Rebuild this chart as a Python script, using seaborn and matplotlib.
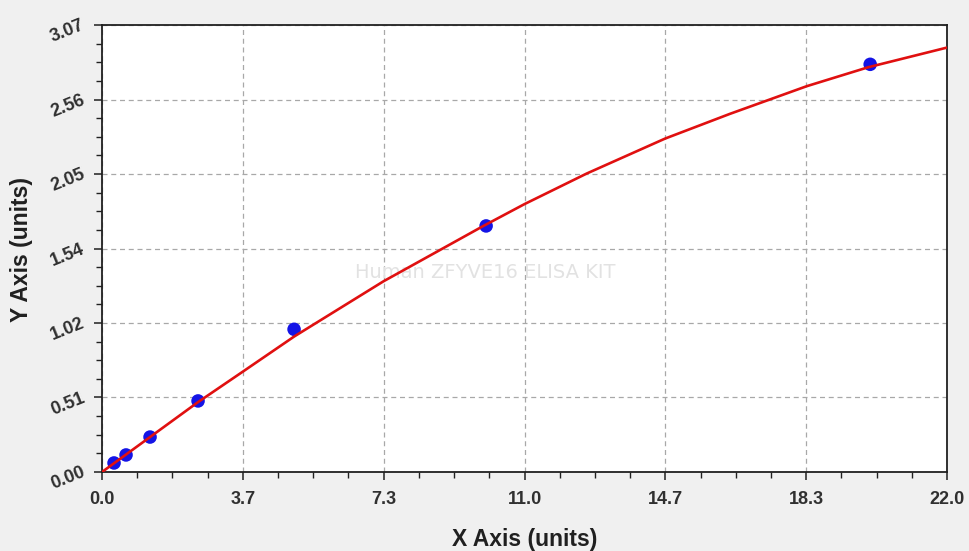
import pandas as pd
import seaborn as sns
import matplotlib.pyplot as plt
from matplotlib.ticker import AutoMinorLocator

# standard points
std_conc = [0.3125, 0.625, 1.25, 2.5, 5, 10, 20]
std_od = [0.062, 0.117, 0.24, 0.488, 0.98, 1.69, 2.80]

# fitted curve
curve_x = [0, 1.25, 2.5, 3.67, 5.0, 7.33, 9.93, 11.0, 12.62, 14.66, 16.35, 18.35, 19.95, 22.0]
curve_y = [0.0, 0.24, 0.48, 0.69, 0.93, 1.31, 1.69, 1.84, 2.05, 2.29, 2.46, 2.65, 2.78, 2.915]

x_ticks = [0, 22 / 6, 44 / 6, 11, 88 / 6, 110 / 6, 22]
x_labels = ['0.0', '3.7', '7.3', '11.0', '14.7', '18.3', '22.0']
y_ticks = [0, 3.07 / 6, 3.07 / 3, 3.07 / 2, 3.07 * 2 / 3, 3.07 * 5 / 6, 3.07]
y_labels = ['0.00', '0.51', '1.02', '1.54', '2.05', '2.56', '3.07']

pts = pd.DataFrame({'x': std_conc, 'y': std_od})
fit = pd.DataFrame({'x': curve_x, 'y': curve_y})

sns.set_theme(style='white')
plt.rcParams['font.family'] = ['Liberation Sans', 'DejaVu Sans']

fig = plt.figure(figsize=(9.69, 5.51), dpi=100, facecolor='#f0f0f0')
ax = fig.add_axes([0.1053, 0.1434, 0.8720, 0.8112])
ax.set_facecolor('white')

sns.scatterplot(data=pts, x='x', y='y', ax=ax, color='#1414e6', s=95,
                edgecolor='none', zorder=3)
sns.lineplot(data=fit, x='x', y='y', ax=ax, color='#e01010', linewidth=1.9,
             zorder=4)

ax.set_xlim(0, 22)
ax.set_ylim(0, 3.07)
ax.set_xticks(x_ticks)
ax.set_xticklabels(x_labels)
ax.set_yticks(y_ticks)
ax.set_yticklabels(y_labels)
ax.xaxis.set_minor_locator(AutoMinorLocator(4))
ax.yaxis.set_minor_locator(AutoMinorLocator(4))

ax.grid(True, which='major', color='#a8a8a8', linestyle=(0, (4, 3)), linewidth=0.9)
ax.set_axisbelow(True)

for s in ax.spines.values():
    s.set_color('#202020')
    s.set_linewidth(1.3)

ax.tick_params(axis='both', which='major', direction='out', length=6, width=1.1,
               color='#202020', bottom=True, left=True)
ax.tick_params(axis='both', which='minor', direction='out', length=4, width=1,
               color='#202020', bottom=True, left=True)
ax.tick_params(axis='x', pad=8)
ax.tick_params(axis='y', pad=7)

for lab in ax.get_xticklabels():
    lab.set_fontweight('bold')
    lab.set_fontsize(13)
    lab.set_color('#303030')
for lab in ax.get_yticklabels():
    lab.set_fontweight('bold')
    lab.set_fontsize(13)
    lab.set_color('#303030')
    lab.set_rotation(22)
    lab.set_rotation_mode('anchor')
    lab.set_ha('right')
    lab.set_va('center')

ax.set_xlabel('X Axis (units)', fontsize=16.5, fontweight='bold', color='#202020')
ax.set_ylabel('Y Axis (units)', fontsize=16.5, fontweight='bold', color='#202020')
ax.xaxis.set_label_coords(0.5, -0.125)
ax.yaxis.set_label_coords(-0.082, 0.497)

ax.text(0.453, 0.447, 'Human ZFYVE16 ELISA KIT', transform=ax.transAxes,
        ha='center', va='center', fontsize=14, color='#e2e2e2',
        family='DejaVu Sans', zorder=1)

fig.savefig('out.png', dpi=100, facecolor=fig.get_facecolor())
